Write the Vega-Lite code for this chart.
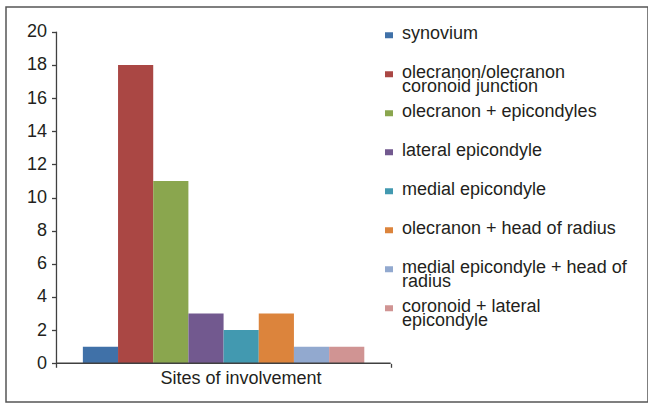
{
  "$schema": "https://vega.github.io/schema/vega-lite/v6.json",
  "width": 642,
  "height": 395,
  "autosize": {"type": "none"},
  "padding": {"left": 6, "top": 7, "right": 0, "bottom": 3},
  "background": "white",
  "config": {
    "view": {"stroke": "#555555", "strokeWidth": 1.5},
    "font": "Liberation Sans",
    "axis": {"labelFont": "Liberation Sans", "labelFontSize": 18, "labelColor": "#231f20", "tickColor": "#404040", "tickWidth": 1.3, "grid": false, "labelOverlap": false},
    "style": {"guide-label": {"lineHeight": 14}}
  },
  "datasets": {
    "sites": [
      {"category": "Sites of involvement", "site": "synovium", "cases": 1},
      {"category": "Sites of involvement", "site": "olecranon/olecranon coronoid junction", "cases": 18},
      {"category": "Sites of involvement", "site": "olecranon + epicondyles", "cases": 11},
      {"category": "Sites of involvement", "site": "lateral epicondyle", "cases": 3},
      {"category": "Sites of involvement", "site": "medial epicondyle", "cases": 2},
      {"category": "Sites of involvement", "site": "olecranon + head of radius", "cases": 3},
      {"category": "Sites of involvement", "site": "medial epicondyle + head of radius", "cases": 1},
      {"category": "Sites of involvement", "site": "coronoid + lateral epicondyle", "cases": 1}
    ],
    "frame": [{"category": "Sites of involvement"}]
  },
  "layer": [
    {
      "data": {"name": "sites"},
      "mark": {"type": "bar"},
      "encoding": {
        "x": {
          "field": "category", "type": "nominal", "title": null,
          "scale": {"paddingInner": 0, "paddingOuter": 0.4605, "align": 0.164},
          "axis": {"orient": "bottom", "offset": -38.7, "domain": false, "tickBand": "extent", "ticks": true, "tickSize": 4, "labelPadding": 2, "labelAngle": 0, "labelOffset": 17, "title": null}
        },
        "xOffset": {
          "field": "site", "type": "nominal",
          "sort": ["synovium", "olecranon/olecranon coronoid junction", "olecranon + epicondyles", "lateral epicondyle", "medial epicondyle", "olecranon + head of radius", "medial epicondyle + head of radius", "coronoid + lateral epicondyle"],
          "scale": {"paddingInner": 0, "paddingOuter": 0.75}
        },
        "y": {
          "field": "cases", "type": "quantitative", "title": null,
          "scale": {"domain": [-2.34, 21.5], "nice": false, "zero": false},
          "axis": {"values": [0, 2, 4, 6, 8, 10, 12, 14, 16, 18, 20], "tickCount": 30, "labelOverlap": false, "labelBound": false, "domain": false, "offset": -50.5, "tickSize": 5, "labelPadding": 5, "title": null}
        },
        "y2": {"datum": 0},
        "color": {
          "field": "site", "type": "nominal",
          "scale": {
            "domain": ["synovium", "olecranon/olecranon coronoid junction", "olecranon + epicondyles", "lateral epicondyle", "medial epicondyle", "olecranon + head of radius", "medial epicondyle + head of radius", "coronoid + lateral epicondyle"],
            "range": ["#4071a8", "#aa4744", "#8aa64e", "#72598f", "#4299b0", "#dc843c", "#92a9cf", "#d09493"]
          },
          "legend": {
            "orient": "none", "legendX": 374, "legendY": 12.4,
            "title": null, "padding": 0,
            "symbolType": "M-2,-3.25H2V-0.25H-2Z", "symbolSize": 16, "symbolStrokeWidth": 0, "symbolOpacity": 1,
            "labelFont": "Liberation Sans", "labelFontSize": 18, "labelColor": "#231f20",
            "labelBaseline": "alphabetic", "labelOffset": 4, "labelLimit": 300,
            "clipHeight": 38.8, "rowPadding": 0,
            "labelExpr": "datum.label == 'olecranon/olecranon coronoid junction' ? ['olecranon/olecranon', 'coronoid junction'] : datum.label == 'medial epicondyle + head of radius' ? ['medial epicondyle + head of', 'radius'] : datum.label == 'coronoid + lateral epicondyle' ? ['coronoid + lateral', 'epicondyle'] : datum.label"
          }
        }
      }
    },
    {
      "data": {"name": "frame"},
      "mark": {"type": "rule", "color": "#404040", "strokeWidth": 1.3},
      "encoding": {
        "x": {"field": "category", "type": "nominal", "bandPosition": 0, "title": null},
        "y": {"datum": 0, "title": null},
        "y2": {"datum": 20}
      }
    },
    {
      "data": {"name": "frame"},
      "mark": {"type": "bar", "fill": null, "stroke": "#404040", "strokeWidth": 1.3},
      "encoding": {
        "x": {"field": "category", "type": "nominal", "title": null},
        "y": {"datum": 0, "title": null},
        "y2": {"datum": 0}
      }
    }
  ]
}
